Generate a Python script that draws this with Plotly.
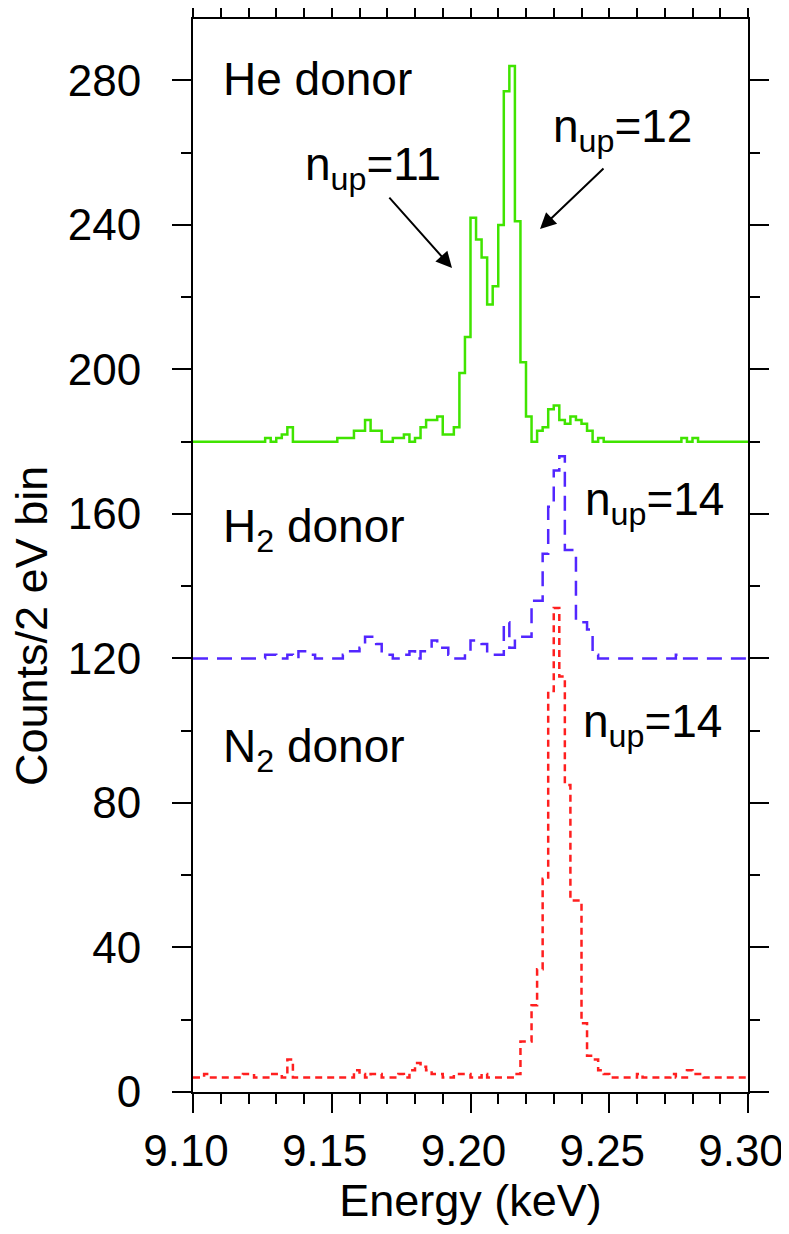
import plotly.graph_objects as go

# 2 eV bins from 9.100 to 9.300 keV
bin_start = 9.100
bin_width = 0.002

he_counts = [180, 180, 180, 180, 180, 180, 180, 180, 180, 180, 180, 180, 180, 181, 180, 181, 182, 184, 180, 180,
             180, 180, 180, 180, 180, 180, 181, 181, 181, 183, 183, 186, 183, 183, 180, 180, 181, 181, 182, 180,
             181, 184, 186, 186, 187, 182, 182, 184, 199, 209, 242, 236, 231, 218, 223, 240, 277, 284, 241, 202,
             187, 180, 183, 184, 189, 190, 186, 185, 187, 186, 185, 183, 180, 181, 180, 180, 180, 180, 180, 180,
             180, 180, 180, 180, 180, 180, 180, 180, 181, 180, 181, 180, 180, 180, 180, 180, 180, 180, 180, 180]
h2_counts = [120, 120, 120, 120, 120, 120, 120, 120, 120, 120, 120, 120, 120, 121, 121, 120, 120, 121, 120, 122,
             122, 121, 120, 120, 120, 120, 120, 121, 122, 122, 123, 126, 126, 124, 121, 121, 120, 120, 121, 122,
             120, 122, 122, 125, 123, 123, 121, 120, 120, 122, 125, 125, 124, 121, 121, 121, 130, 123, 126, 126,
             126, 136, 136, 149, 162, 172, 176, 150, 150, 130, 130, 128, 121, 120, 120, 120, 120, 120, 120, 120,
             120, 120, 120, 120, 120, 120, 120, 121, 120, 120, 120, 120, 120, 120, 120, 120, 120, 120, 120, 120]
n2_counts = [4, 4, 5, 4, 4, 4, 4, 4, 4, 5, 5, 4, 4, 4, 5, 5, 4, 9, 4, 4,
             4, 4, 4, 4, 4, 4, 4, 4, 4, 6, 5, 4, 5, 5, 4, 4, 4, 5, 4, 6,
             8, 7, 6, 5, 5, 4, 4, 5, 5, 5, 4, 4, 5, 4, 4, 4, 4, 4, 5, 14,
             14, 24, 34, 59, 111, 134, 115, 85, 53, 53, 19, 10, 9, 6, 5, 4, 4, 4, 4, 4,
             5, 4, 4, 4, 4, 4, 5, 4, 4, 6, 5, 5, 4, 4, 4, 4, 4, 4, 4, 4]

x_ticks = [9.10, 9.15, 9.20, 9.25, 9.30]
x_labels = ["9.10", "9.15", "9.20", "9.25", "9.30"]
y_ticks = [0, 40, 80, 120, 160, 200, 240, 280]

edges = [round(bin_start + bin_width * i, 3) for i in range(len(he_counts) + 1)]

FONT = "Liberation Sans, Arial, Helvetica, sans-serif"

fig = go.Figure()
for counts, color, dash in [(n2_counts, "#ff1f1f", "7px,5px"),
                            (h2_counts, "#5226ff", "15px,9px"),
                            (he_counts, "#40e400", "solid")]:
    fig.add_trace(go.Scatter(x=edges, y=counts + [counts[-1]], mode="lines",
                             line=dict(shape="hv", color=color, width=2.5, dash=dash),
                             showlegend=False, hoverinfo="skip"))


# page pixel -> data coordinates (plot box spans x 193..748, y 19..1092)
def px_to_data(px, py):
    return 9.10 + (px - 193) / 2775.0, (1092 - py) / 3.613


labels = [("He donor", 221, 79),
          ("n<sub>up</sub>=11", 303, 167),
          ("n<sub>up</sub>=12", 551, 129),
          ("H<sub>2</sub> donor", 221, 529),
          ("n<sub>up</sub>=14", 583, 502),
          ("N<sub>2</sub> donor", 221, 749),
          ("n<sub>up</sub>=14", 581, 724)]
for text, px, py in labels:
    x, y = px_to_data(px, py)
    fig.add_annotation(x=x, y=y, text=text, showarrow=False, xanchor="left", yanchor="middle",
                       font=dict(family=FONT, size=46, color="black"))

arrows = [((388, 196), (452, 268)), ((605, 167), (540, 229))]
for (tx, ty), (hx, hy) in arrows:
    x0, y0 = px_to_data(tx, ty)
    x1, y1 = px_to_data(hx, hy)
    fig.add_annotation(x=x1, y=y1, ax=x0, ay=y0, xref="x", yref="y", axref="x", ayref="y",
                       text="", showarrow=True, arrowhead=2, arrowsize=1.6, arrowwidth=2,
                       arrowcolor="black")

# y axis title sits lower than the plot centre in the original
fig.add_annotation(x=(31 - 193) / 555.0, y=(1092 - 626) / 1073.0, xref="paper", yref="paper",
                   text="Counts/2 eV bin", textangle=-90, showarrow=False,
                   xanchor="center", yanchor="middle",
                   font=dict(family=FONT, size=45, color="black"))

axis_common = dict(showline=True, linewidth=2, linecolor="black", mirror="allticks",
                   ticks="outside", ticklen=19, tickwidth=2, tickcolor="black",
                   showgrid=False, zeroline=False, automargin=False,
                   ticklabeloverflow="allow",
                   tickfont=dict(family=FONT, size=44, color="black"))

fig.update_xaxes(range=[9.10, 9.30], tickvals=x_ticks, ticktext=x_labels, ticklabelshift=-7,
                 minor=dict(dtick=0.01, ticklen=10, tickwidth=2, tickcolor="black", ticks="outside"),
                 title=dict(text="Energy (keV)", font=dict(family=FONT, size=45, color="black"), standoff=8),
                 **axis_common)
fig.update_yaxes(range=[0, 297], tickvals=y_ticks, ticklabelstandoff=22,
                 minor=dict(dtick=20, ticklen=10, tickwidth=2, tickcolor="black", ticks="outside"),
                 **axis_common)

# page body has an 8px margin, so the figure is 8px smaller and shifted
fig.update_layout(width=781, height=1226, margin=dict(l=185, r=41, t=11, b=142),
                  paper_bgcolor="white", plot_bgcolor="white",
                  font=dict(family=FONT, color="black"))

fig.write_html("out.html")
